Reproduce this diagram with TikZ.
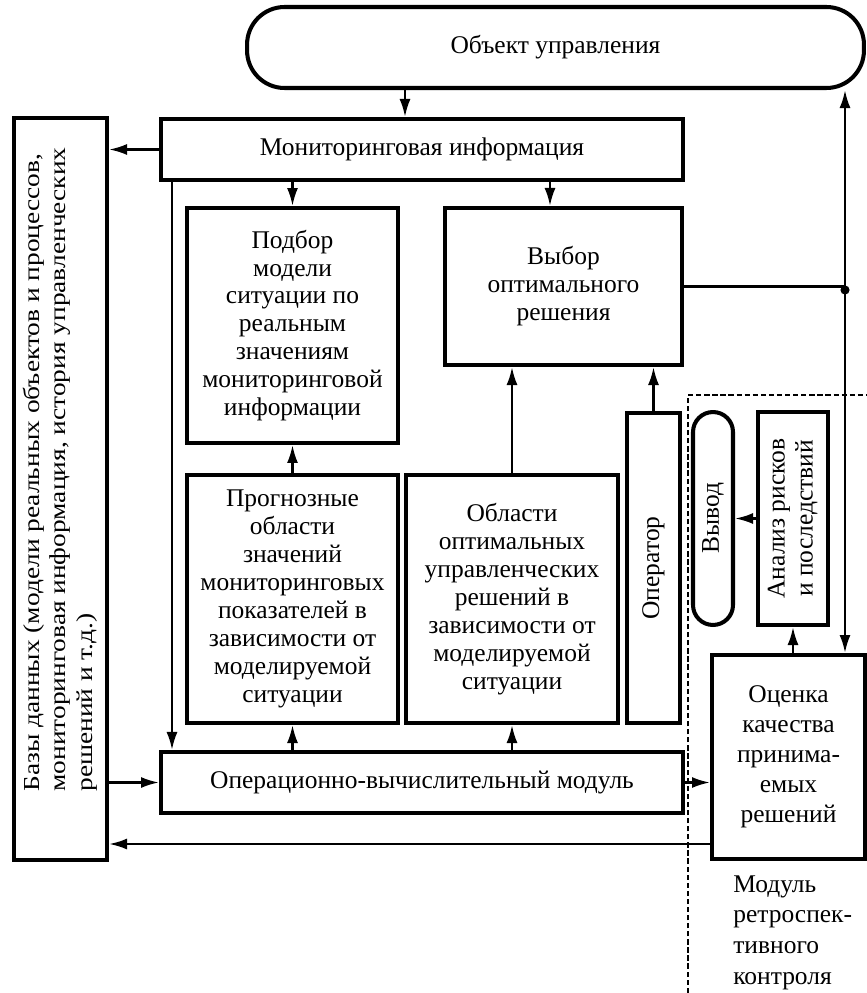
\documentclass[tikz,border=0pt]{standalone}
\usepackage{fontspec}
\usepackage{graphicx}
\setmainfont{Liberation Serif}
\newfontfamily\dbfont{Liberation Serif}[FakeStretch=1.2]
\usetikzlibrary{arrows.meta}

\tikzset{
  blok/.style={draw, line width=2.3pt, inner sep=0pt, align=center,
    font=\fontsize{14.5}{15.9}\selectfont},
  link/.style={line width=1.4pt},
}

\begin{document}
\begin{tikzpicture}[x=0.02cm, y=-0.02cm, >={Latex[length=0.36cm,width=0.22cm]}]
\useasboundingbox (0,0) rectangle (866,993);
% blocks
\node[blok, rounded corners=0.75cm, minimum width=12.34cm, minimum height=1.62cm] (obj) at (555.5,47.5) {Объект управления};
\node[blok, minimum width=10.44cm, minimum height=1.22cm] (mon) at (422,149.5) {Мониторинговая информация};
\node[blok, minimum width=1.86cm, minimum height=14.84cm] (db) at (60.5,489)
  {\rotatebox{90}{\dbfont\fontsize{13}{15.2}\selectfont\hspace*{0.78cm}\begin{tabular}{@{}l@{}}Базы данных (модели реальных объектов и процессов,\\мониторинговая информация, история управленческих\\решений и т.д.)\end{tabular}}};
\node[blok, minimum width=4.22cm, minimum height=4.70cm] (podbor) at (292.5,325.5)
  {Подбор\\модели\\ситуации по\\реальным\\значениям\\мониторинговой\\информации};
\node[blok, minimum width=4.74cm, minimum height=3.14cm] (vybor) at (563.5,286.5)
  {Выбор\\оптимального\\решения};
\node[blok, minimum width=4.22cm, minimum height=4.96cm] (prognoz) at (292.5,599)
  {Прогнозные\\области\\значений\\мониторинговых\\показателей в\\зависимости от\\моделируемой\\ситуации};
\node[blok, minimum width=4.24cm, minimum height=4.96cm] (oblasti) at (512,599)
  {Области\\оптимальных\\управленческих\\решений в\\зависимости от\\моделируемой\\ситуации};
\node[blok, minimum width=1.06cm, minimum height=6.20cm] (operator) at (653.5,568)
  {\rotatebox{90}{Оператор}};
\node[blok, minimum width=10.44cm, minimum height=1.22cm] (oper) at (422,782.5)
  {Операционно-вычислительный модуль};
\node[blok, rounded corners=0.4cm, minimum width=0.80cm, minimum height=4.26cm] (vyvod) at (713,518.5)
  {\rotatebox{90}{Вывод}};
\node[blok, minimum width=1.40cm, minimum height=4.26cm] (analiz) at (793,518.5)
  {\rotatebox{90}{\begin{tabular}{@{}c@{}}Анализ рисков\\и последствий\end{tabular}}};
\node[blok, minimum width=3.06cm, minimum height=4.08cm, font=\fontsize{14.5}{17}\selectfont] (ocenka) at (788.5,757)
  {Оценка\\качества\\принима-\\емых\\решений};
\node[anchor=north west, inner sep=0pt, align=left, font=\fontsize{14.5}{17.6}\selectfont] (retro) at (733,875)
  {Модуль\\ретроспек-\\тивного\\контроля};

% helper points
\coordinate (c405) at (405,0);
\coordinate (c550) at (550,0);
\coordinate (c172) at (172,0);
\coordinate (jn) at (845,290);
\coordinate (back) at ([yshift=0.34cm]ocenka.south west);

% connectors
\draw[link,->] (c405 |- obj.south) -- (c405 |- mon.north);
\draw[link,->] (mon.west) -- (db.east |- mon.west);
\draw[link,->] (podbor.north |- mon.south) -- (podbor.north);
\draw[link,->] (c550 |- mon.south) -- (c550 |- vybor.north);
\draw[link,->] (c172 |- mon.south) -- (c172 |- oper.north);
\draw[link,->] (db.east |- oper.west) -- (oper.west);
\draw[link,->] (prognoz.south |- oper.north) -- (prognoz.south);
\draw[link,->] (prognoz.north) -- (podbor.south);
\draw[link,->] (oblasti.south |- oper.north) -- (oblasti.south);
\draw[link,->] (oblasti.north) -- (oblasti.north |- vybor.south);
\draw[link,->] (operator.north) -- (operator.north |- vybor.south);
\draw[link] (vybor.east) -- (vybor.east -| jn);
\fill (jn) circle (2.6pt);
\draw[link,->] (jn) -- (jn |- obj.south);
\draw[link,->] (jn) -- (jn |- ocenka.north);
\draw[link,->] (oper.east) -- (oper.east -| ocenka.west);
\draw[link,->] (analiz.south |- ocenka.north) -- (analiz.south);
\draw[link,->] (analiz.west) -- (vyvod.east);
\draw[link,->] (back) -- (back -| db.east);

% retrospective control module
\draw[line width=1.4pt, dash pattern=on 3pt off 1.6pt] (688,993) -- (688,395) -- (866,395);
\end{tikzpicture}
\end{document}
